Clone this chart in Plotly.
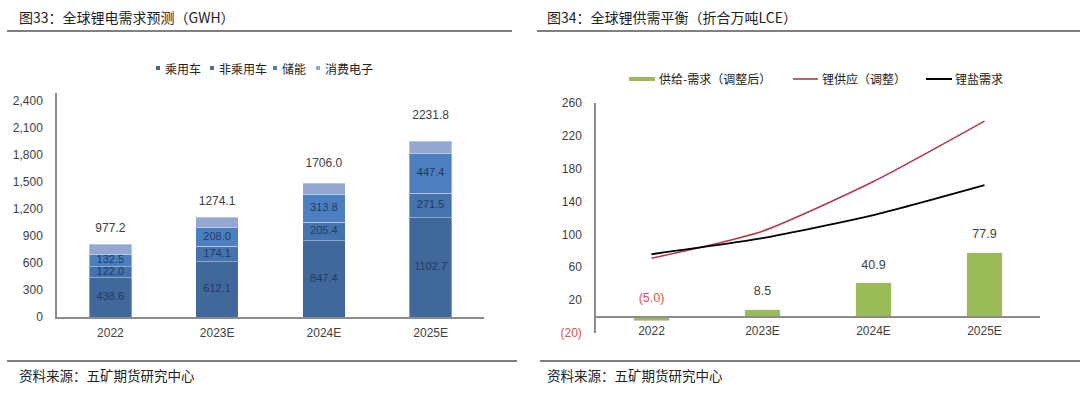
import plotly.graph_objects as go

# ---------------- data ----------------
years = ["2022", "2023E", "2024E", "2025E"]

# left chart: global Li-battery demand (GWh)
passenger = [438.6, 612.1, 847.4, 1102.7]
commercial = [122.0, 174.1, 205.4, 271.5]
storage = [132.5, 208.0, 313.8, 447.4]
consumer = [118.0, 117.0, 122.0, 134.0]
totals = [977.2, 1274.1, 1706.0, 2231.8]
left_series_names = ["乘用车", "非乘用车", "储能", "消费电子"]
left_ticks = [0, 300, 600, 900, 1200, 1500, 1800, 2100, 2400]
left_ticktext = ["0", "300", "600", "900", "1,200", "1,500", "1,800", "2,100", "2,400"]

# right chart: lithium supply-demand balance (10kt LCE)
balance = [-5.0, 8.5, 40.9, 77.9]
supply = [71.0, 104.0, 164.4, 237.9]
demand = [76.0, 95.5, 123.5, 160.0]
right_series_names = ["供给-需求（调整后）", "锂供应（调整）", "锂盐需求"]
right_ticks = [-20, 20, 60, 100, 140, 180, 220, 260]

# ---------------- styling ----------------
FONT = "Noto Sans CJK SC"
NUMFONT = "Liberation Sans"
W, H = 1080, 395
left_colors = ["#41689B", "#4673AC", "#4C7FBF", "#94A7D1"]
GREEN = "#9BBB59"
RED = "#B23A48"
NEG_RED = "#D9534F"
AXIS = "#8C8C8C"
TXT = "#404040"
SEG_TXT = "#1F3B63"


def px(x):
    return x / W


def py(y):
    return 1 - y / H


fig = go.Figure()

# ---- left stacked bars ----
stack_series = [passenger, commercial, storage, consumer]
for name, vals, col in zip(left_series_names, stack_series, left_colors):
    fig.add_trace(go.Bar(
        x=years, y=vals, name=name, width=0.4,
        marker=dict(color=col, line=dict(color="rgba(255,255,255,0.45)", width=0.8)),
        xaxis="x", yaxis="y", showlegend=False, hoverinfo="skip",
    ))

# segment labels (first three series) at the middle of each segment
seg_x, seg_y, seg_t = [], [], []
base = [0.0] * len(years)
for vals in stack_series[:3]:
    for i, v in enumerate(vals):
        seg_x.append(years[i])
        seg_y.append(base[i] + v / 2)
        seg_t.append(f"{v:.1f}")
        base[i] += v
fig.add_trace(go.Scatter(
    x=seg_x, y=seg_y, mode="text", text=seg_t, textposition="middle center",
    textfont=dict(family=NUMFONT, size=11, color=SEG_TXT),
    xaxis="x", yaxis="y", showlegend=False, hoverinfo="skip", cliponaxis=False,
))

fig.add_trace(go.Scatter(
    x=years, y=totals, mode="text", text=[f"{t:.1f}" for t in totals],
    textposition="middle center",
    textfont=dict(family=NUMFONT, size=12, color=TXT),
    xaxis="x", yaxis="y", showlegend=False, hoverinfo="skip", cliponaxis=False,
))

# ---- right chart ----
fig.add_trace(go.Bar(
    x=years, y=balance, name=right_series_names[0], width=0.32,
    marker=dict(color=GREEN), xaxis="x2", yaxis="y2",
    showlegend=False, hoverinfo="skip",
))
fig.add_trace(go.Scatter(
    x=years, y=supply, name=right_series_names[1], mode="lines",
    line=dict(color=RED, width=1.6, shape="spline", smoothing=0.6),
    xaxis="x2", yaxis="y2", showlegend=False, hoverinfo="skip",
))
fig.add_trace(go.Scatter(
    x=years, y=demand, name=right_series_names[2], mode="lines",
    line=dict(color="#000000", width=2, shape="spline", smoothing=0.6),
    xaxis="x2", yaxis="y2", showlegend=False, hoverinfo="skip",
))
fig.add_trace(go.Scatter(
    x=years, y=[max(v, 0) for v in balance], mode="markers+text",
    marker=dict(size=16, color="rgba(0,0,0,0)"),
    text=[f"({abs(v):.1f})" if v < 0 else f"{v:.1f}" for v in balance],
    textposition="top center",
    textfont=dict(family=NUMFONT, size=12.5, color=[NEG_RED if v < 0 else TXT for v in balance]),
    xaxis="x2", yaxis="y2", showlegend=False, hoverinfo="skip", cliponaxis=False,
))

right_ticktext = [f'<span style="color:{NEG_RED}">({abs(t)})</span>' if t < 0 else str(t)
                  for t in right_ticks]

# ---- axes ----
ly0, ly1 = py(317), py(93)
ry0, ry1 = py(333), py(103)
rmin, rmax = -20, 260
zero_pos = ry0 + (0 - rmin) / (rmax - rmin) * (ry1 - ry0)

fig.update_layout(
    width=W, height=H, margin=dict(l=0, r=0, t=0, b=0),
    paper_bgcolor="white", plot_bgcolor="white",
    barmode="stack", showlegend=False,
    font=dict(family=FONT, color=TXT),
    xaxis=dict(domain=[px(57), px(484)], anchor="y", showline=True, linecolor=AXIS,
               linewidth=1.5, ticks="", showgrid=False, zeroline=False, automargin=False,
               ticklabelstandoff=4,
               tickfont=dict(family=NUMFONT, size=12, color=TXT)),
    yaxis=dict(domain=[ly0, ly1], anchor="x", range=[0, 2490], showline=True,
               linecolor=AXIS, linewidth=1.5, ticks="", showgrid=False, zeroline=False,
               automargin=False,
               tickvals=left_ticks, ticktext=left_ticktext, ticklabelstandoff=10,
               tickfont=dict(family=NUMFONT, size=12, color=TXT)),
    xaxis2=dict(domain=[px(596), px(1040)], anchor="free", position=zero_pos,
                showline=True, linecolor=AXIS, linewidth=1.5, ticks="", showgrid=False,
                zeroline=False, automargin=False, ticklabelstandoff=3,
                tickfont=dict(family=NUMFONT, size=12, color=TXT)),
    yaxis2=dict(domain=[ry0, ry1], anchor="x2", range=[rmin, rmax], showline=True,
                linecolor=AXIS, linewidth=1.5, ticks="", showgrid=False, zeroline=False,
                automargin=False,
                tickvals=right_ticks, ticktext=right_ticktext, ticklabelstandoff=10,
                tickfont=dict(family=NUMFONT, size=12, color=TXT)),
)

# ---- titles, rules, source ----
ann = []
shapes = []
ann.append(dict(x=px(17), y=py(17), xref="paper", yref="paper", xanchor="left",
                yanchor="middle", showarrow=False, text="图33：全球锂电需求预测（GWH）",
                font=dict(family=FONT, size=14, color="#222222")))
ann.append(dict(x=px(545), y=py(17), xref="paper", yref="paper", xanchor="left",
                yanchor="middle", showarrow=False, text="图34：全球锂供需平衡（折合万吨LCE）",
                font=dict(family=FONT, size=14, color="#222222")))
for x0 in (17, 545):
    ann.append(dict(x=px(x0), y=py(375), xref="paper", yref="paper", xanchor="left",
                    yanchor="middle", showarrow=False, text="资料来源：五矿期货研究中心",
                    font=dict(family=FONT, size=13.5, color="#222222")))
for (x0, x1, yy) in [(7, 512, 31), (537, 1080, 31), (7, 517, 361), (540, 1080, 361)]:
    shapes.append(dict(type="line", xref="paper", yref="paper", x0=px(x0), x1=px(x1),
                       y0=py(yy), y1=py(yy), line=dict(color="#808080", width=2)))

# ---- left legend (custom) ----
leg_sq_x = [158, 212, 275, 318]
for xs, name, col in zip(leg_sq_x, left_series_names, left_colors):
    shapes.append(dict(type="rect", xref="paper", yref="paper", x0=px(xs - 2), x1=px(xs + 2),
                       y0=py(70), y1=py(66), fillcolor=col, line=dict(width=0)))
    ann.append(dict(x=px(xs + 5), y=py(68), xref="paper", yref="paper", xanchor="left",
                    yanchor="middle", showarrow=False, text=name,
                    font=dict(family=FONT, size=12, color="#222222")))

# ---- right legend (custom) ----
shapes.append(dict(type="rect", xref="paper", yref="paper", x0=px(629), x1=px(655),
                   y0=py(81), y1=py(77), fillcolor=GREEN, line=dict(width=0)))
shapes.append(dict(type="line", xref="paper", yref="paper", x0=px(793), x1=px(818),
                   y0=py(79), y1=py(79), line=dict(color=RED, width=1.6)))
shapes.append(dict(type="line", xref="paper", yref="paper", x0=px(926), x1=px(952),
                   y0=py(79), y1=py(79), line=dict(color="#000000", width=2)))
for xs, name in zip([657, 820, 953], right_series_names):
    ann.append(dict(x=px(xs), y=py(79), xref="paper", yref="paper", xanchor="left",
                    yanchor="middle", showarrow=False, text=name,
                    font=dict(family=FONT, size=12, color="#222222")))

fig.update_layout(annotations=ann, shapes=shapes)

post = (
    "document.documentElement.style.margin='0';"
    "document.documentElement.style.padding='0';"
    "document.documentElement.style.overflow='hidden';"
    "document.body.style.margin='0';"
    "document.body.style.padding='0';"
    "document.body.style.overflow='hidden';"
    "var d=document.getElementById('{plot_id}');"
    "d.style.position='fixed';d.style.left='0px';d.style.top='0px';"
)
fig.write_html("out.html", config={"displayModeBar": False}, post_script=post)
